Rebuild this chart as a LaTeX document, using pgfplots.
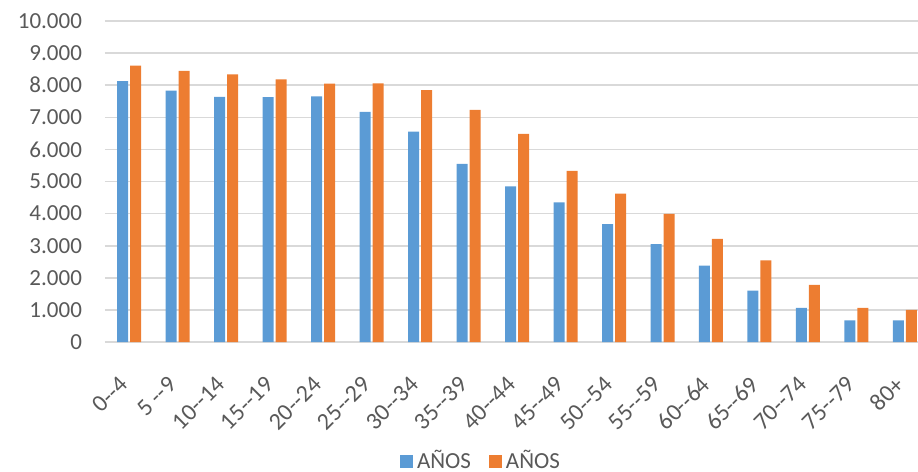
\documentclass[border=0pt]{standalone}
\usepackage{pgfplots}
\pgfplotsset{compat=1.18}
\usepackage{fontspec}
\setmainfont{Carlito}
\definecolor{cblue}{HTML}{5B9BD5}
\definecolor{corange}{HTML}{ED7D31}
\definecolor{cgrid}{HTML}{D9D9D9}
\definecolor{ctext}{HTML}{595959}
\begin{document}
\begin{tikzpicture}
\begin{axis}[
  scale only axis, width=406.5pt, height=160.5pt,
  xmin=-0.5, xmax=16.27, ymin=0, ymax=10000,
  ybar, bar width=5.5pt,
  axis line style={draw=none},
  major tick length=0pt,
  ymajorgrids, grid style={cgrid, line width=0.8pt},
  ytick={0,1000,...,10000},
  xtick={0,...,16},
  xticklabels={0-{}-4,5 -{}-9,10-{}-14,15-{}-19,20-{}-24,25-{}-29,30-{}-34,35-{}-39,40-{}-44,45-{}-49,50-{}-54,55-{}-59,60-{}-64,65-{}-69,70-{}-74,75-{}-79,80+},
  ticklabel style={text=ctext},
  /pgf/number format/assume math mode=true,
  yticklabel style={font=\fontsize{11.5}{13}\selectfont, /pgf/number format/1000 sep={.}, anchor=east, xshift=-8pt},
  scaled y ticks=false,
  xticklabel style={font=\fontsize{12}{14}\selectfont, xshift=-5.5pt, yshift=-13.5pt, rotate=45, anchor=north east, inner sep=2pt},
  legend style={at={(0.4637,-0.371)}, anchor=center, draw=none, legend columns=2,
    font=\fontsize{11.5}{13}\selectfont, text=ctext,
    /tikz/every even column/.append style={column sep=7pt}},
  legend image code/.code={\fill[#1] (0pt,-3.25pt) rectangle (6.5pt,3.25pt);},
]
\addplot[fill=cblue, draw=none, bar shift=-3.25pt] coordinates {
(0,8130) (1,7830) (2,7640) (3,7630) (4,7650) (5,7170) (6,6550) (7,5550) (8,4850)
(9,4350) (10,3670) (11,3050) (12,2380) (13,1600) (14,1060) (15,675) (16,675)};
\addplot[fill=corange, draw=none, bar shift=3.25pt] coordinates {
(0,8610) (1,8450) (2,8340) (3,8180) (4,8050) (5,8060) (6,7850) (7,7230) (8,6480)
(9,5330) (10,4620) (11,3990) (12,3210) (13,2540) (14,1780) (15,1060) (16,1000)};
\legend{AÑOS, AÑOS}
\end{axis}
\pgfresetboundingbox
\path (-52.5pt,-65pt) rectangle (406.5pt,171pt);
\end{tikzpicture}
\end{document}
